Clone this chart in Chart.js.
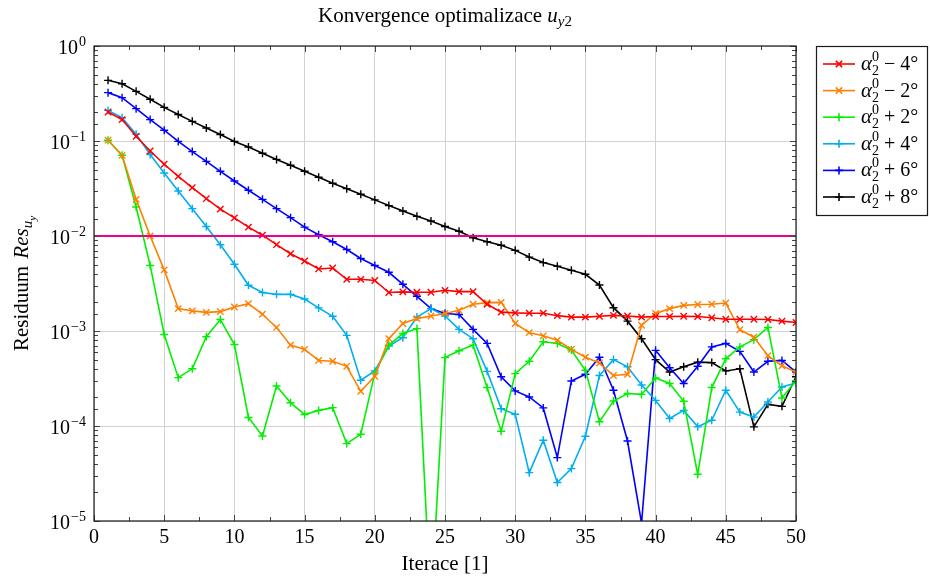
<!DOCTYPE html>
<html>
<head>
<meta charset="utf-8">
<script src="https://cdn.jsdelivr.net/npm/chart.js@4.4.1/dist/chart.umd.min.js"></script>
<style>
  html, body { margin: 0; padding: 0; background: #fff; }
  #chart { display: block; }
</style>
</head>
<body>
<canvas id="chart" width="930" height="579"></canvas>
<script>
const iterations = [1, 2, 3, 4, 5, 6, 7, 8, 9, 10, 11, 12, 13, 14, 15, 16, 17, 18, 19, 20, 21, 22, 23, 24, 25,
  26, 27, 28, 29, 30, 31, 32, 33, 34, 35, 36, 37, 38, 39, 40, 41, 42, 43, 44, 45, 46, 47, 48, 49, 50];

const minus4 = [0.202, 0.168, 0.112, 0.0785, 0.0569, 0.0425, 0.0323, 0.0247, 0.0192, 0.0155, 0.0124, 0.0102, 0.0081,
  0.0065, 0.00545, 0.0045, 0.0046, 0.0035, 0.0035, 0.0034, 0.00254, 0.00258, 0.00256, 0.00256, 0.00268, 0.0026, 0.0026,
  0.00191, 0.00158, 0.00155, 0.00154, 0.00154, 0.00145, 0.0014, 0.0014, 0.00143, 0.00146, 0.00144, 0.0014, 0.00142,
  0.00142, 0.00143, 0.00142, 0.00138, 0.00133, 0.00133, 0.00133, 0.00132, 0.00127, 0.00123];
const minus2 = [0.102, 0.0707, 0.0243, 0.01, 0.0044, 0.00172, 0.00163, 0.00157, 0.0016, 0.00179, 0.00194, 0.0015, 0.00109,
  0.00071, 0.00064, 0.00049, 0.00048, 0.000425, 0.000232, 0.000333, 0.00083, 0.0012, 0.00135, 0.00144, 0.00153, 0.00165,
  0.00191, 0.00199, 0.002, 0.0012, 0.00096, 0.00089, 0.0008, 0.00064, 0.00053, 0.00046, 0.00034, 0.00035, 0.00115,
  0.00153, 0.00172, 0.00186, 0.0019, 0.00191, 0.00197, 0.00103, 0.00086, 0.00055, 0.00043, 0.00037];
const plus2 = [0.102, 0.0707, 0.0202, 0.0049, 0.00092, 0.000323, 0.0004, 0.00087, 0.00132, 0.00072, 0.000123, 0.0000785,
  0.000264, 0.000176, 0.000132, 0.000146, 0.000156, 0.0000653, 0.0000818, 0.00036, 0.00071, 0.00094, 0.00106, 0.0000012,
  0.000525, 0.00062, 0.00071, 0.000254, 0.000088, 0.000356, 0.00048, 0.00077, 0.00074, 0.00063, 0.000386, 0.000111,
  0.000183, 0.00022, 0.000215, 0.00032, 0.00028, 0.000182, 0.000031, 0.000254, 0.00051, 0.00068, 0.00081, 0.00109,
  0.000197, 0.0003];
const plus4 = [0.21, 0.176, 0.118, 0.072, 0.0461, 0.0298, 0.0194, 0.0126, 0.0081, 0.00504, 0.00303, 0.00254, 0.00243,
  0.00243, 0.00217, 0.00175, 0.00143, 0.0009, 0.000303, 0.00038, 0.000695, 0.00085, 0.0014, 0.00172, 0.00144, 0.00104,
  0.00083, 0.000376, 0.000152, 0.000133, 0.0000323, 0.0000708, 0.0000254, 0.0000356, 0.000078, 0.00034, 0.0005,
  0.00042, 0.00027, 0.000186, 0.00012, 0.000146, 0.000098, 0.000115, 0.000238, 0.00014, 0.000124, 0.000179, 0.000257,
  0.000284];
const plus6 = [0.323, 0.286, 0.219, 0.168, 0.13, 0.099, 0.0773, 0.0611, 0.048, 0.0379, 0.0303, 0.0243, 0.0194, 0.0156,
  0.0124, 0.0103, 0.0087, 0.0072, 0.0058, 0.0049, 0.00415, 0.0031, 0.00232, 0.00172, 0.00153, 0.00149, 0.00104, 0.00074,
  0.00033, 0.000234, 0.000202, 0.000155, 0.0000465, 0.000298, 0.00035, 0.00053, 0.000238, 0.0000695, 0.0000095,
  0.000626, 0.00041, 0.00028, 0.000425, 0.00068, 0.00074, 0.00061, 0.00037, 0.00048, 0.00049, 0.00037];
const plus8 = [0.435, 0.4, 0.333, 0.275, 0.226, 0.19, 0.161, 0.137, 0.117, 0.099, 0.0865, 0.0743, 0.064, 0.0555, 0.048,
  0.0415, 0.0359, 0.0315, 0.0275, 0.024, 0.0209, 0.0183, 0.0161, 0.0144, 0.0126, 0.0112, 0.0096, 0.0087, 0.008, 0.00706,
  0.006, 0.00525, 0.0048, 0.00435, 0.00395, 0.00305, 0.00176, 0.00127, 0.00083, 0.0005, 0.00037, 0.00042, 0.00047,
  0.000465, 0.00038, 0.0004, 0.000098, 0.000169, 0.000161, 0.00033];

const thresholdX = [0, 50];
const thresholdY = [0.01, 0.01];

const legendSigns = ['\u2212 4\u00b0', '\u2212 2\u00b0', '+ 2\u00b0', '+ 4\u00b0', '+ 6\u00b0', '+ 8\u00b0'];
const xTickLabels = ['0', '5', '10', '15', '20', '25', '30', '35', '40', '45', '50'];
const yTickExponents = ['\u22125', '\u22124', '\u22123', '\u22122', '\u22121', '0'];

const SERIF = '"Liberation Serif", "DejaVu Serif", serif';

const series = [
  { values: minus4, color: '#ff0000', marker: 'crossRot' },
  { values: minus2, color: '#ff8000', marker: 'crossRot' },
  { values: plus2, color: '#00f000', marker: 'cross' },
  { values: plus4, color: '#00aeef', marker: 'cross' },
  { values: plus6, color: '#0000ff', marker: 'cross' },
  { values: plus8, color: '#000000', marker: 'cross' },
];

const datasets = series.map((s, i) => ({
  label: legendSigns[i],
  data: iterations.map((x, j) => ({ x, y: s.values[j] })),
  borderColor: s.color,
  backgroundColor: s.color,
  borderWidth: 1.6,
  pointStyle: s.marker,
  pointRadius: s.marker === 'crossRot' ? 4.5 : 4,
  pointBorderWidth: 1.4,
  pointBorderColor: s.color,
  tension: 0,
}));

datasets.unshift({
  label: 'limit',
  data: thresholdX.map((x, j) => ({ x, y: thresholdY[j] })),
  borderColor: '#ec008c',
  borderWidth: 1.8,
  pointRadius: 0,
});

const isDecade = (v) => Math.abs(Math.log10(v) - Math.round(Math.log10(v))) < 1e-9;

// draws a row of text runs, each {t, font, dy}; runs with stack:true share x with the next one
const drawRuns = (ctx, runs, x, y) => {
  let cx = x;
  runs.forEach((r) => {
    ctx.font = r.font;
    ctx.fillText(r.t, cx, y + (r.dy || 0));
    if (!r.stack) cx += ctx.measureText(r.t).width + (r.gap || 0);
  });
  return cx - x;
};
const runsWidth = (ctx, runs) => {
  let w = 0;
  runs.forEach((r) => {
    ctx.font = r.font;
    if (!r.stack) w += ctx.measureText(r.t).width + (r.gap || 0);
  });
  return w;
};

const decorations = {
  id: 'decorations',
  afterDraw(chart) {
    const { ctx, chartArea: area, scales } = chart;
    const xs = scales.x;
    const ys = scales.y;
    ctx.save();

    // tick marks inside the box
    ctx.strokeStyle = '#444';
    ctx.lineWidth = 1;
    ctx.beginPath();
    ys.ticks.forEach((t) => {
      const py = Math.round(ys.getPixelForValue(t.value)) + 0.5;
      const len = isDecade(t.value) ? 6 : 4;
      ctx.moveTo(area.left, py); ctx.lineTo(area.left + len, py);
      ctx.moveTo(area.right, py); ctx.lineTo(area.right - len, py);
    });
    const xt = xs.ticks.map((t) => t.value);
    xt.forEach((v, i) => {
      const marks = [[v, 6]];
      if (i < xt.length - 1) marks.push([(v + xt[i + 1]) / 2, 4]);
      marks.forEach(([mv, len]) => {
        const px = Math.round(xs.getPixelForValue(mv)) + 0.5;
        ctx.moveTo(px, area.bottom); ctx.lineTo(px, area.bottom - len);
        ctx.moveTo(px, area.top); ctx.lineTo(px, area.top + len);
      });
    });
    ctx.stroke();

    // frame
    ctx.strokeStyle = '#1a1a1a';
    ctx.lineWidth = 1.2;
    ctx.strokeRect(area.left, area.top, area.right - area.left, area.bottom - area.top);

    ctx.fillStyle = '#000';
    ctx.textBaseline = 'alphabetic';

    // x tick labels
    ctx.font = `20px ${SERIF}`;
    ctx.textAlign = 'center';
    xs.ticks.forEach((t, i) => {
      ctx.fillText(xTickLabels[i], xs.getPixelForValue(t.value), area.bottom + 22);
    });

    // y tick labels 10^n
    ctx.textAlign = 'left';
    ys.ticks.filter((t) => isDecade(t.value)).forEach((t, i) => {
      const py = ys.getPixelForValue(t.value);
      const runs = [
        { t: '10', font: `20px ${SERIF}`, gap: 1 },
        { t: yTickExponents[i], font: `14px ${SERIF}`, dy: -8 },
      ];
      const w = runsWidth(ctx, runs);
      drawRuns(ctx, runs, area.left - 8 - w, py + 8);
    });

    // title
    const titleRuns = [
      { t: 'Konvergence optimalizace ', font: `21px ${SERIF}` },
      { t: 'u', font: `italic 21px ${SERIF}` },
      { t: 'y', font: `italic 15px ${SERIF}`, dy: 4 },
      { t: '2', font: `15px ${SERIF}`, dy: 4 },
    ];
    const cxTitle = (area.left + area.right) / 2;
    drawRuns(ctx, titleRuns, cxTitle - runsWidth(ctx, titleRuns) / 2, 22);

    // x axis title
    ctx.font = `21px ${SERIF}`;
    ctx.textAlign = 'center';
    ctx.fillText('Iterace [1]', cxTitle, 570);
    ctx.textAlign = 'left';

    // y axis title
    const yRuns = [
      { t: 'Residuum ', font: `21px ${SERIF}`, gap: 2 },
      { t: 'Res', font: `italic 21px ${SERIF}` },
      { t: 'u', font: `italic 15px ${SERIF}`, dy: 4 },
      { t: 'y', font: `italic 11px ${SERIF}`, dy: 8 },
    ];
    ctx.save();
    ctx.translate(28, (area.top + area.bottom) / 2);
    ctx.rotate(-Math.PI / 2);
    drawRuns(ctx, yRuns, -runsWidth(ctx, yRuns) / 2, 0);
    ctx.restore();

    // legend
    const lx = 816.5;
    const ly = 46.5;
    const lw = 111;
    const lh = 169;
    ctx.fillStyle = '#fff';
    ctx.fillRect(lx, ly, lw, lh);
    ctx.strokeStyle = '#1a1a1a';
    ctx.lineWidth = 1.2;
    ctx.strokeRect(lx, ly, lw, lh);
    series.forEach((s, i) => {
      const rowY = 64 + i * 26.6;
      ctx.strokeStyle = s.color;
      ctx.lineWidth = 1.6;
      ctx.beginPath();
      ctx.moveTo(823, rowY); ctx.lineTo(855, rowY);
      ctx.stroke();
      Chart.helpers.drawPoint(ctx, {
        pointStyle: s.marker,
        radius: s.marker === 'crossRot' ? 4.5 : 4,
        borderWidth: 1.4,
        rotation: 0,
      }, 839, rowY);
      ctx.fillStyle = '#000';
      drawRuns(ctx, [
        { t: '\u03b1', font: `italic 21px ${SERIF}` },
        { t: '0', font: `14px ${SERIF}`, dy: -9, stack: true },
        { t: '2', font: `14px ${SERIF}`, dy: 5, gap: 5 },
        { t: legendSigns[i], font: `20px ${SERIF}` },
      ], 861, rowY + 6);
    });

    ctx.restore();
  },
};

new Chart(document.getElementById('chart'), {
  type: 'line',
  data: { datasets },
  options: {
    responsive: false,
    animation: false,
    events: [],
    layout: { padding: { left: 94, top: 46, right: 134, bottom: 58 } },
    plugins: { legend: { display: false }, title: { display: false }, tooltip: { enabled: false } },
    scales: {
      x: {
        type: 'linear',
        min: 0,
        max: 50,
        ticks: { stepSize: 5, display: false },
        grid: { color: '#d2d2d2', lineWidth: 1, drawTicks: false },
        border: { display: false },
      },
      y: {
        type: 'logarithmic',
        min: 1e-5,
        max: 1,
        ticks: { display: false },
        grid: {
          color: (c) => (c.tick && isDecade(c.tick.value) ? '#d2d2d2' : 'rgba(0,0,0,0)'),
          lineWidth: 1,
          drawTicks: false,
        },
        border: { display: false },
      },
    },
  },
  plugins: [decorations],
});
</script>
</body>
</html>
